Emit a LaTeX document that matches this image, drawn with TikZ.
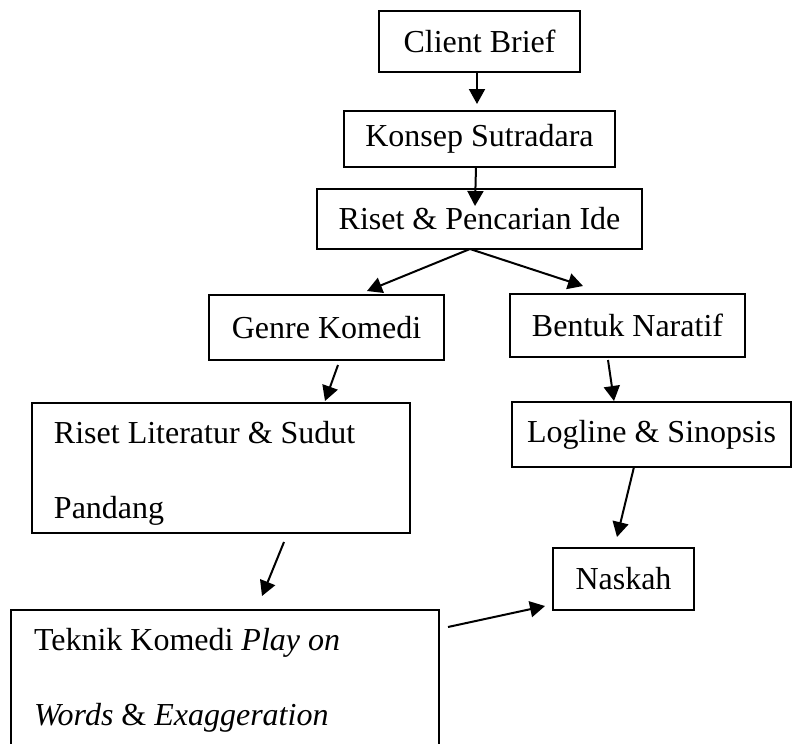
\documentclass[tikz,border=0pt]{standalone}
\usepackage{fontspec}
\setmainfont{Liberation Serif}
\usetikzlibrary{arrows.meta,calc}

\begin{document}
\begin{tikzpicture}[x=0.5pt,y=-0.5pt,->,>={Triangle[length=7.5pt,width=8pt]},line width=1pt,
					font=\fontsize{16}{19}\selectfont,
					box/.style={draw,rectangle,inner sep=0,outer sep=0}]
					\useasboundingbox (0,0) rectangle (793,744);
					\node[box, minimum width=100.5pt, minimum height=30.5pt] (brief) at (479.5, 41.5) {Client Brief};
					\node[box, minimum width=135.5pt, minimum height=28pt] (konsep) at (479.5, 139) {Konsep Sutradara};
					\node[box, minimum width=162.5pt, minimum height=30pt] (riset) at (479.5, 219) {Riset \& Pencarian Ide};
					\node[box, minimum width=117.5pt, minimum height=32.5pt] (genre) at (326.5, 327.5) {Genre Komedi};
					\node[box, minimum width=117.5pt, minimum height=31.5pt] (bentuk) at (627.5, 325.5) {Bentuk Naratif};
					\node[box, minimum width=189pt, minimum height=65pt] (lit) at (221, 468) {};
					\node[anchor=base west,inner sep=0] (lit_1) at (53, 443) {Riset Literatur \& Sudut};
					\node[anchor=base west,inner sep=0] (lit_2) at (53, 518) {Pandang};
					\node[box, minimum width=139.5pt, minimum height=32.5pt] (logline) at (651.5, 434.5) {Logline \& Sinopsis};
					\node[box, minimum width=70.5pt, minimum height=31pt] (naskah) at (623.5, 579) {Naskah};
					\node[box, minimum width=214pt, minimum height=85pt] (teknik) at (225, 695) {};
					\node[anchor=base west,inner sep=0] (teknik_1) at (33, 650) {Teknik Komedi \textit{Play on}};
					\node[anchor=base west,inner sep=0] (teknik_2) at (33, 725) {\textit{Words} \& \textit{Exaggeration}};
					%\path (lit_1) edge (lit_2);
					\path ($(brief.south)+(-2.5,0)$) edge ($(konsep.north)+(-2.5,-7)$);
					\path ($(konsep.south)+(-3.5,0)$) edge ($(riset.north)+(-4.5,17)$);
					\path ($(riset.south)+(-9.5,0)$) edge ($(genre.north)+(40.5,-4)$);
					\path ($(riset.south)+(-9.5,0)$) edge ($(bentuk.north)+(-44.5,-8)$);
					\path ($(genre.south)+(11.5,5)$) edge ($(lit.north)+(104,-2)$);
					\path ($(bentuk.south)+(-19.5,3)$) edge ($(logline.north)+(-37.5,-1)$);
					\path ($(logline.south)+(-17.5,0)$) edge ($(naskah.north)+(-6.5,-11)$);
					\path ($(lit.south)+(63,9)$) edge ($(teknik.north)+(37,-14)$);
					\path ($(teknik.north east)+(9,17)$) edge ($(naskah.west)+(-8,27)$);
				\end{tikzpicture}
\end{document}
